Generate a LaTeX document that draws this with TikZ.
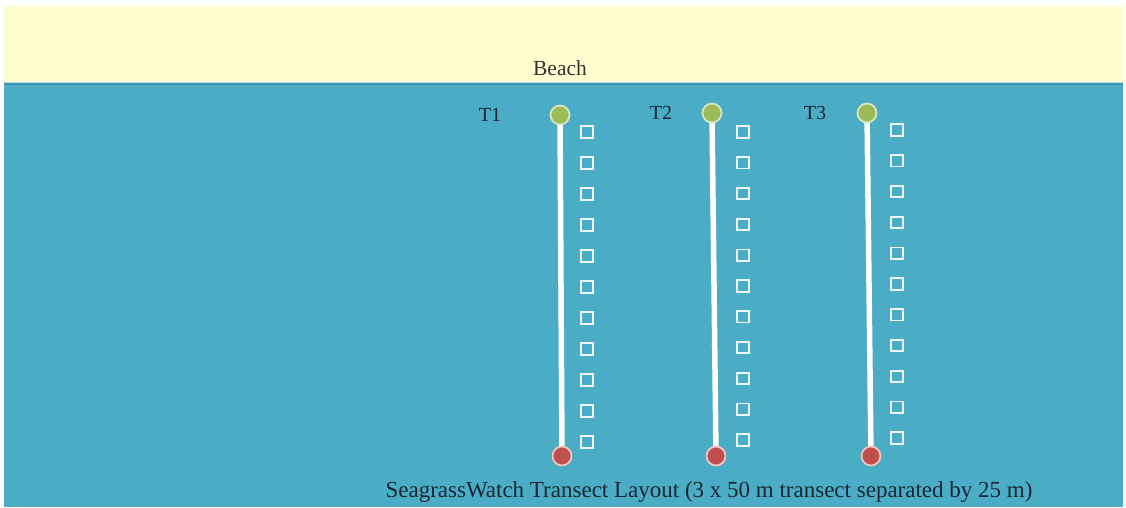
\documentclass[tikz,border=0pt]{standalone}
\usepackage{fontspec}
\setmainfont{Liberation Serif}
\definecolor{beach}{HTML}{FFFDD0}
\definecolor{sea}{HTML}{4BACC6}
\definecolor{seaedge}{HTML}{3A96B0}
\definecolor{startfill}{HTML}{9BBB59}
\definecolor{startring}{HTML}{D7E4BD}
\definecolor{endfill}{HTML}{C0504D}
\definecolor{endring}{HTML}{F2C4BC}
\definecolor{ink}{HTML}{1A2633}
\tikzset{
  startpt/.style={circle, fill=startfill, draw=startring, line width=1.8pt, minimum size=19pt, inner sep=0pt},
  endpt/.style={circle, fill=endfill, draw=endring, line width=1.8pt, minimum size=19pt, inner sep=0pt},
  tline/.style={white, line width=5.5pt},
  quad/.style={draw=white!90!sea, line width=1.8pt, minimum size=11.5pt, inner sep=0pt},
  lbl/.style={font=\fontsize{20}{22}\selectfont, text=ink, inner sep=0pt},
  beachlbl/.style={font=\fontsize{21.5}{24}\selectfont, text=black!80, inner sep=0pt},
  captext/.style={font=\fontsize{23}{26}\selectfont, text=ink, inner sep=0pt}
}
\begin{document}
\begin{tikzpicture}[x=1pt,y=-1pt]
\useasboundingbox[fill=white] (0,0) rectangle (1126,507);
\fill[beach] (4,6) rectangle (1123,83);
\fill[sea] (4,83) rectangle (1123,507);
\draw[seaedge, line width=2pt] (4,84) -- (1123,84);
\draw[white!60!sea, line width=0.8pt] (4,82.5) -- (1123,82.5);
\node[beachlbl] (beach) at (560,68) {Beach};
% transects
\foreach \n/\xa/\xb/\ya/\yb/\xq/\yq/\dq/\xl in {1/560/562/115/456/587/132/31/490, 2/712/716/113/456/743/132/30.8/661, 3/867/871/113/456/897/130/30.8/815}{
  \coordinate (s\n) at (\xa,\ya);
  \coordinate (e\n) at (\xb,\yb);
  \draw[tline] (s\n) -- (e\n);
  \node[startpt] (start\n) at (s\n) {};
  \node[endpt] (end\n) at (e\n) {};
  \node[lbl] (t\n) at (\xl,\ya) {T\n};
  \foreach \k in {0,...,10}{
    \node[quad] (q\n-\k) at (\xq,{\yq+\k*\dq}) {};
  }
}
\node[captext] (caption) at (709,492) {SeagrassWatch Transect Layout (3 x 50 m transect separated by 25 m)};
\end{tikzpicture}
\end{document}
